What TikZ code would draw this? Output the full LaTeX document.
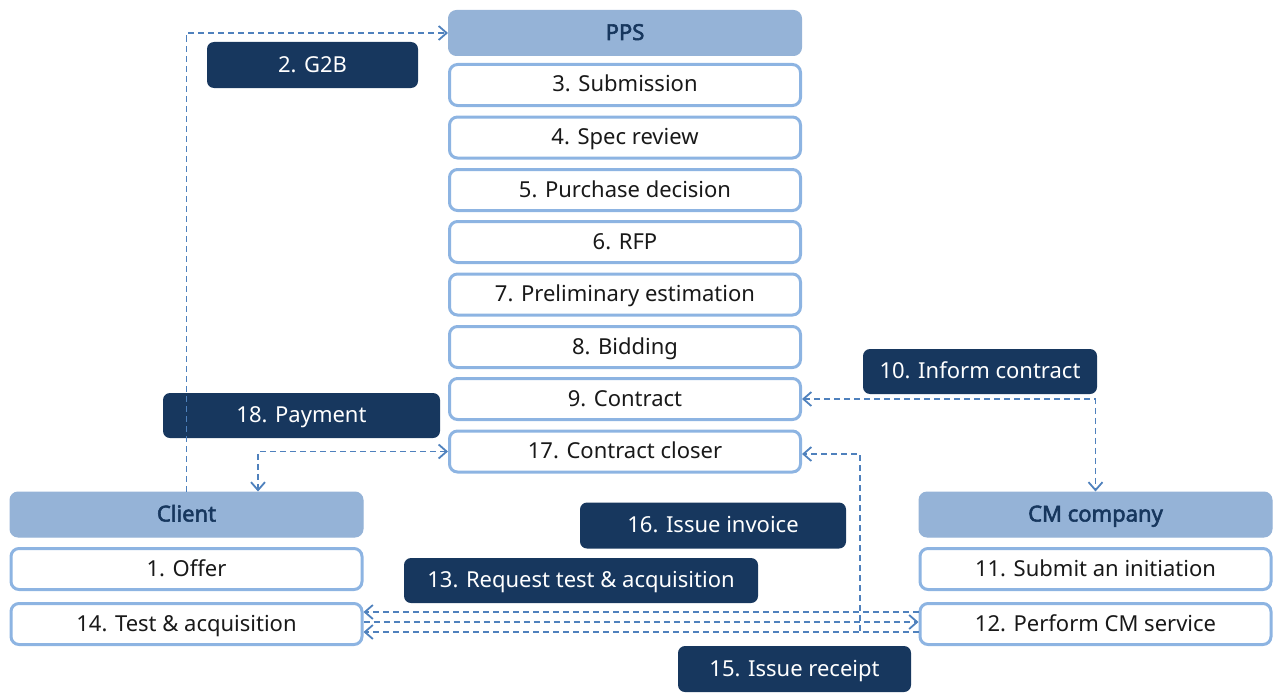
\documentclass[tikz,border=0pt]{standalone}
\usepackage{fontspec}
\setmainfont{Noto Sans}[AutoFakeBold=2.5]
\usepackage{xcolor}
\usepackage{tikz}
\usetikzlibrary{arrows.meta, positioning, calc}

\definecolor{hdrfill}{HTML}{95B3D7}
\definecolor{boxline}{HTML}{8DB4E2}
\definecolor{navy}{HTML}{17375E}
\definecolor{arrblue}{HTML}{4F81BD}

\begin{document}
\begin{tikzpicture}[
    x=1pt, y=-1pt,
    font=\fontsize{22}{26}\selectfont,
    hdr/.style={rectangle, draw=hdrfill, fill=hdrfill, line width=1pt, rounded corners=8pt, align=center, minimum width=353pt, minimum height=45pt, text height=16pt, text depth=2pt, text=navy, font=\fontsize{22}{26}\selectfont\bfseries},
    box/.style={rectangle, draw=boxline, fill=white, line width=3pt, rounded corners=8pt, align=center, minimum width=351pt, minimum height=41pt, text height=16pt, text depth=2pt, text=black!90},
    lbl/.style={rectangle, fill=navy, rounded corners=7pt, align=center, minimum height=46pt, text height=16pt, text depth=2pt, text=white, inner sep=0pt},
    arr/.style={-{Straight Barb[length=8pt, width=14pt]}, line width=1.8pt, draw=arrblue, dash pattern=on 6pt off 4pt},
    arr_both/.style={{Straight Barb[length=8pt, width=14pt]}-{Straight Barb[length=8pt, width=14pt]}, line width=1.8pt, draw=arrblue, dash pattern=on 6pt off 4pt}
]
    \useasboundingbox (0,0) rectangle (1276,693);

    % PPS column
    \node[hdr] (pps) at (625, 33) {PPS};
    \node[box] (submit) at (625, 85) {3. Submission};
    \node[box] (spec) at (625, 137.5) {4. Spec review};
    \node[box] (purchase) at (625, 190) {5. Purchase decision};
    \node[box] (rfp) at (625, 242) {6. RFP};
    \node[box] (prelim) at (625, 294.5) {7. Preliminary estimation};
    \node[box] (bidding) at (625, 347) {8. Bidding};
    \node[box] (contract) at (625, 399) {9. Contract};
    \node[box] (closer) at (625, 451.5) {17. Contract closer};

    % Client column
    \node[hdr] (client) at (186.5, 514.5) {Client};
    \node[box] (offer) at (186.5, 569) {1. Offer};
    \node[box] (test) at (186.5, 624) {14. Test \& acquisition};

    % CM company column
    \node[hdr] (cm) at (1095.5, 514.5) {CM company};
    \node[box] (initiation) at (1095.5, 569) {11. Submit an initiation};
    \node[box] (service) at (1095.5, 624) {12. Perform CM service};

    % step labels
    \node[lbl, minimum width=211pt] (g2b) at (312.5, 65) {2. G2B};
    \node[lbl, minimum width=277pt, minimum height=45pt] (payment) at (301.5, 415.5) {18. Payment};
    \node[lbl, minimum width=234pt, minimum height=45pt] (inform) at (980, 371.5) {10. Inform contract};
    \node[lbl, minimum width=266pt] (invoice) at (713, 525.5) {16. Issue invoice};
    \node[lbl, minimum width=354pt, minimum height=45pt] (request) at (581, 580.5) {13. Request test \& acquisition};
    \node[lbl, minimum width=233pt] (receipt) at (794.5, 669) {15. Issue receipt};

    % connectors
    \draw[arr] (client.north) |- (pps.west);
    \draw[arr_both] (closer.west) -| ([xshift=71.5pt]client.north);
    \draw[arr_both] (contract.east) -| (cm.north);

    \draw[arr] ([yshift=12pt]service.west) -- ([yshift=12pt]test.east);
    \draw[arr] ([yshift=2pt]test.east) -- ([yshift=2pt]service.west);
    \draw[arr] ([yshift=-8pt]service.west) -- ([yshift=-8pt]test.east);

    \coordinate (inv) at (860, 454);
    \draw[arr] ([yshift=-8pt]service.west) -| (inv) -- (inv -| closer.east);
\end{tikzpicture}
\end{document}
